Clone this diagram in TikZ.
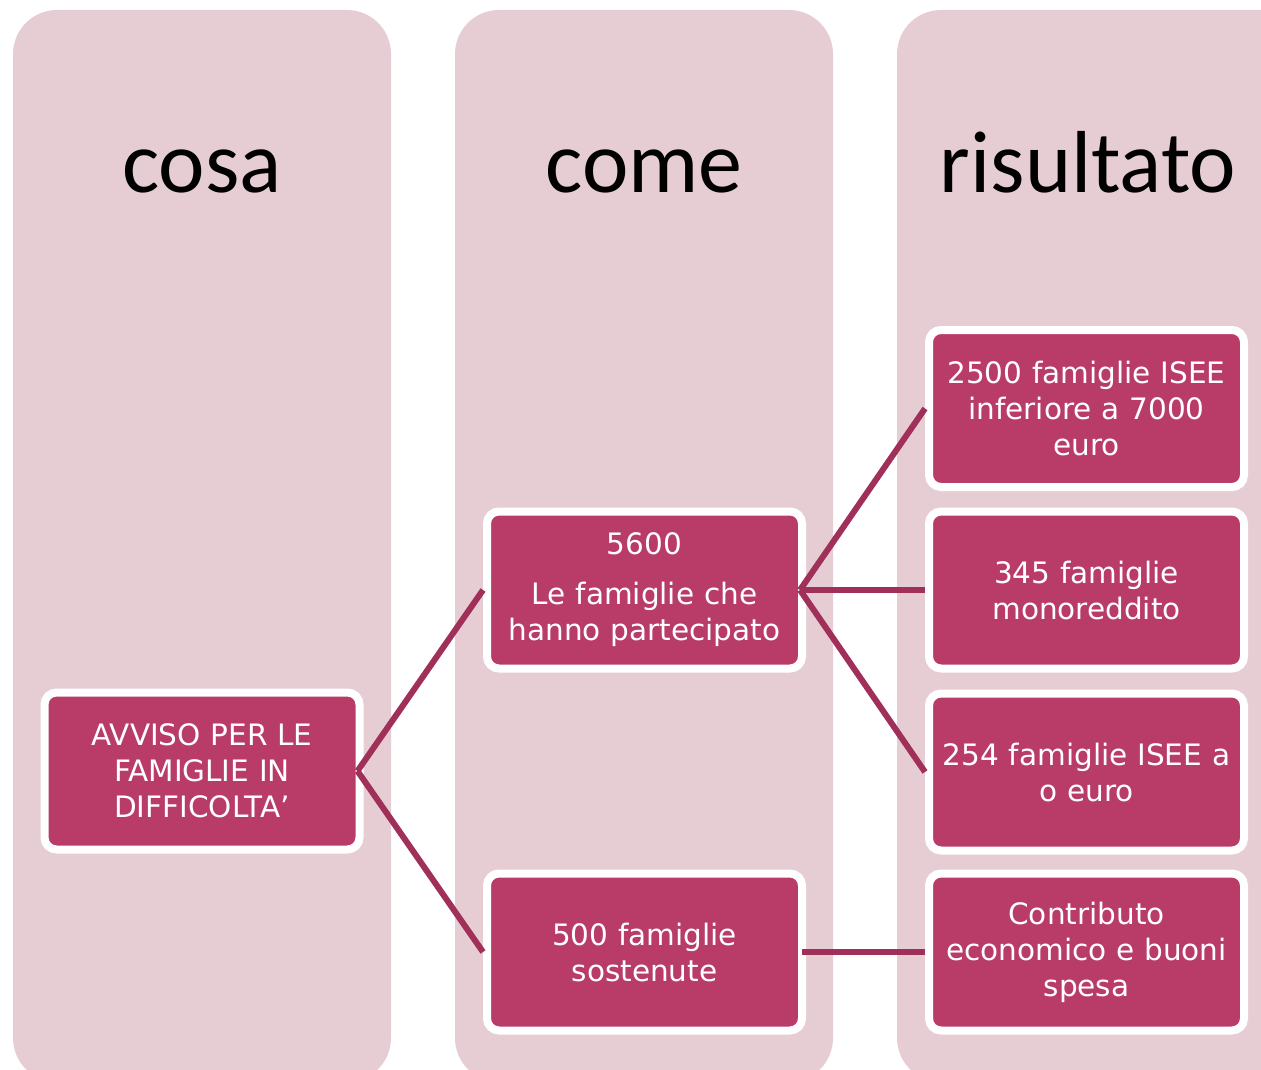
\documentclass[tikz,border=0pt]{standalone}
\usepackage{fontspec}
\setmainfont{DejaVu Sans}
\newfontfamily\headfont{Carlito}
\definecolor{colbg}{HTML}{E6CDD4}
\definecolor{boxfill}{HTML}{B93C68}
\definecolor{connc}{HTML}{A0305A}
\tikzset{
  column/.style={fill=colbg, rounded corners=44pt},
  head/.style={font=\headfont\fontsize{88}{96}\selectfont, text=black, inner sep=0pt, anchor=base},
  itembox/.style={draw=white, line width=8pt, fill=boxfill, rounded corners=12pt,
    minimum width=315pt, minimum height=157pt, text width=305pt, inner sep=0pt,
    align=center, text=white, font=\fontsize{29.5}{36}\selectfont},
  conn/.style={draw=connc, line width=6pt}
}
\begin{document}
\begin{tikzpicture}[x=1pt,y=-1pt]
\useasboundingbox (0,0) rectangle (1261,1070);
\clip (0,0) rectangle (1261,1070);
% columns
\fill[column] (13,10) rectangle (391,1082);
\fill[column] (455,10) rectangle (833,1082);
\fill[column] (897,10) rectangle (1310,1082);
% headings
\node[head] (hcosa) at (202,193) {cosa};
\node[head] (hcome) at (644,193) {come};
\node[head] (hris) at (1088,193) {risultato};
% boxes
\node[itembox] (avviso) at (202,771) {AVVISO PER LE\\FAMIGLIE IN\\DIFFICOLTA’};
\node[itembox] (n5600) at (644.5,590) {5600\\[14pt]Le famiglie che\\hanno partecipato};
\node[itembox] (n500) at (644.5,952) {500 famiglie\\sostenute};
\node[itembox] (n2500) at (1086.5,408.5) {2500 famiglie ISEE\\inferiore a 7000\\euro};
\node[itembox] (n345) at (1086.5,590) {345 famiglie\\monoreddito};
\node[itembox] (n254) at (1086.5,772) {254 famiglie ISEE a\\o euro};
\node[itembox] (ncontr) at (1086.5,952) {Contributo\\economico e buoni\\spesa};
% connectors
\draw[conn] ([xshift=-6pt]avviso.east) -- (n5600.west);
\draw[conn] ([xshift=-6pt]avviso.east) -- (n500.west);
\draw[conn] ([xshift=-6pt]n5600.east) -- (n2500.west);
\draw[conn] ([xshift=-6pt]n5600.east) -- (n345.west);
\draw[conn] ([xshift=-6pt]n5600.east) -- (n254.west);
\draw[conn] ([xshift=-4pt]n500.east) -- (ncontr.west);
\end{tikzpicture}
\end{document}
